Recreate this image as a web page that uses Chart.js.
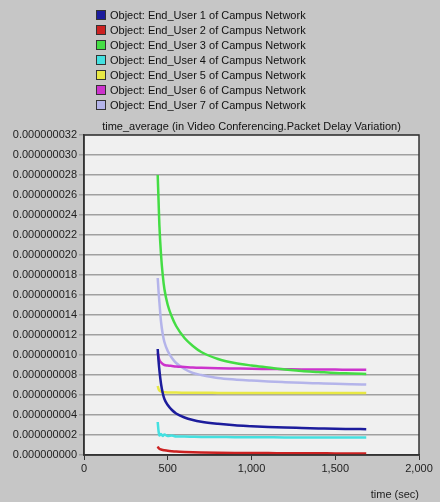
<!DOCTYPE html>
<html>
<head>
<meta charset="utf-8">
<script src="https://cdn.jsdelivr.net/npm/chart.js@4.4.1/dist/chart.umd.min.js"></script>
<style>
  html, body { margin: 0; padding: 0; }
  body { width: 440px; height: 502px; background: #c6c6c6; position: relative; overflow: hidden;
         font-family: "Liberation Sans", Arial, sans-serif; }
  #wrap { position: absolute; left: 0; top: 0; width: 440px; height: 502px; }
  .legend { position: absolute; left: 96px; top: 8px; font-size: 11px; color: #111; }
  .legend div { height: 15px; line-height: 15px; white-space: nowrap; }
  .legend span { display: inline-block; width: 8px; height: 8px; border: 1px solid #333;
                 margin-right: 4px; vertical-align: -1px; }
  .title { position: absolute; left: 84px; width: 335px; top: 120px; text-align: center;
           font-size: 11px; color: #111; white-space: nowrap; }
</style>
</head>
<body>
<div id="wrap"><canvas id="myChart" width="440" height="502"></canvas></div>
<div class="legend" id="legend"></div>
<div class="title">time_average (in Video Conferencing.Packet Delay Variation)</div>
<script>
// time axis (sec)
const times = [440, 445, 450, 460, 470, 480, 500, 525, 550, 600, 650, 700, 800, 900, 1000, 1100, 1200, 1300, 1400, 1500, 1600, 1685];

// values in units of 0.000000001
const user1 = [10.6, 9.4, 8.5, 7.1, 6.2, 5.6, 5.0, 4.5, 4.15, 3.75, 3.5, 3.33, 3.12, 2.97, 2.88, 2.8, 2.74, 2.7, 2.66, 2.62, 2.6, 2.58];
const user2 = [0.85, 0.7, 0.62, 0.55, 0.5, 0.47, 0.42, 0.38, 0.35, 0.31, 0.28, 0.26, 0.23, 0.21, 0.2, 0.19, 0.18, 0.17, 0.17, 0.16, 0.16, 0.15];
const user3 = [28.0, 25.5, 23.0, 20.0, 18.0, 16.6, 15.0, 13.8, 12.9, 11.7, 10.9, 10.3, 9.6, 9.2, 8.95, 8.75, 8.55, 8.4, 8.3, 8.2, 8.15, 8.1];
const user4 = [3.3, 2.4, 1.95, 2.1, 1.9, 2.05, 1.9, 1.95, 1.85, 1.85, 1.82, 1.8, 1.8, 1.78, 1.78, 1.77, 1.76, 1.76, 1.75, 1.75, 1.75, 1.75];
const user5 = [6.9, 6.6, 6.45, 6.35, 6.3, 6.28, 6.26, 6.25, 6.24, 6.23, 6.22, 6.22, 6.21, 6.2, 6.2, 6.2, 6.2, 6.2, 6.2, 6.2, 6.2, 6.2];
const user6 = [10.2, 9.8, 9.5, 9.25, 9.1, 9.0, 8.95, 8.9, 8.85, 8.8, 8.75, 8.72, 8.68, 8.65, 8.62, 8.6, 8.58, 8.56, 8.55, 8.54, 8.53, 8.52];
const user7 = [17.7, 16.4, 15.3, 13.3, 12.1, 11.3, 10.4, 9.7, 9.2, 8.6, 8.2, 8.0, 7.7, 7.55, 7.45, 7.35, 7.28, 7.22, 7.17, 7.12, 7.08, 7.05];

const seriesNames = [
  'Object: End_User 1 of Campus Network',
  'Object: End_User 2 of Campus Network',
  'Object: End_User 3 of Campus Network',
  'Object: End_User 4 of Campus Network',
  'Object: End_User 5 of Campus Network',
  'Object: End_User 6 of Campus Network',
  'Object: End_User 7 of Campus Network'
];
const seriesColors = ['#1c1c9c', '#cc2222', '#44dd44', '#44e0e0', '#e8e844', '#cc33cc', '#b4b4ea'];
const seriesData = [user1, user2, user3, user4, user5, user6, user7];

function injectLegend() {
  const target = document.querySelector('#legend');
  target.innerHTML = '';
  seriesNames.forEach((name, i) => {
    target.innerHTML += `<div><span style="background:${seriesColors[i]}"></span>${name}</div>`;
  });
}

// plot background + frame
const plotFrame = {
  id: 'plotFrame',
  beforeDraw(chart) {
    const a = chart.chartArea;
    const ctx = chart.ctx;
    ctx.save();
    ctx.fillStyle = '#f0f0f0';
    ctx.fillRect(a.left, a.top, a.right - a.left, a.bottom - a.top);
    ctx.restore();
  },
  afterDatasetsDraw(chart) {
    const a = chart.chartArea;
    const ctx = chart.ctx;
    ctx.save();
    ctx.strokeStyle = '#333';
    ctx.lineWidth = 1.5;
    ctx.strokeRect(a.left, a.top, a.right - a.left, a.bottom - a.top);
    ctx.restore();
  }
};

function plotChart() {
  const ctx = document.getElementById('myChart').getContext('2d');
  const datasets = seriesData.map((vals, i) => ({
    label: seriesNames[i],
    data: vals.map((v, j) => ({ x: times[j], y: v })),
    borderColor: seriesColors[i],
    backgroundColor: seriesColors[i],
    borderWidth: 2.5,
    pointRadius: 0,
    cubicInterpolationMode: 'monotone',
    fill: false
  }));
  return new Chart(ctx, {
    type: 'line',
    data: { datasets: datasets },
    plugins: [plotFrame],
    options: {
      responsive: false,
      animation: false,
      layout: { padding: { top: 135, right: 21, left: 0, bottom: 0 } },
      plugins: { legend: { display: false }, tooltip: { enabled: false } },
      scales: {
        x: {
          type: 'linear',
          min: 0, max: 2000,
          border: { color: '#333', width: 1.5 },
          grid: { drawOnChartArea: false, drawTicks: true, tickLength: 5, color: '#333' },
          ticks: {
            stepSize: 500, color: '#222', padding: 2,
            font: { family: 'Liberation Sans', size: 11 },
            callback: (v) => v.toLocaleString('en-US')
          },
          title: {
            display: true, text: 'time (sec)', align: 'end', color: '#222',
            font: { family: 'Liberation Sans', size: 11 }, padding: { top: 3, bottom: 0 }
          },
          afterFit: (s) => { s.height = 47; }
        },
        y: {
          min: 0, max: 32,
          border: { color: '#333', width: 1.5 },
          grid: { color: '#a0a0a0', lineWidth: 1.5, drawTicks: true, tickLength: 5 },
          ticks: {
            stepSize: 2, color: '#222', padding: 2,
            font: { family: 'Liberation Sans', size: 11 },
            callback: (v) => (v * 1e-9).toFixed(9)
          },
          afterFit: (s) => { s.width = 84; }
        }
      }
    }
  });
}

injectLegend();
plotChart();
</script>
</body>
</html>
